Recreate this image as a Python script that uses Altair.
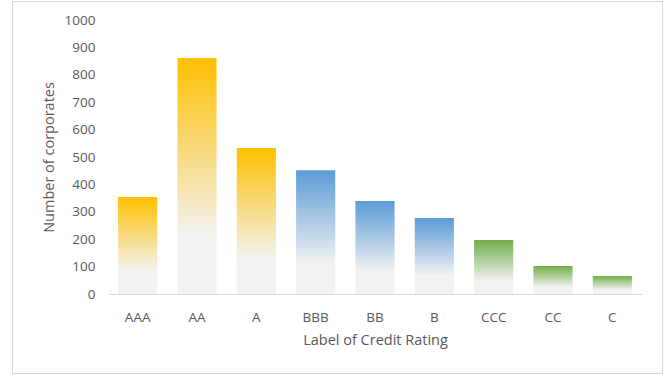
import altair as alt
import pandas as pd

ratings = ["AAA", "AA", "A", "BBB", "BB", "B", "CCC", "CC", "C"]
counts = [354, 861, 533, 452, 339, 277, 197, 102, 66]
groups = ["A", "A", "A", "B", "B", "B", "C", "C", "C"]
group_colors = {"A": "#FFC000", "B": "#5B9BD5", "C": "#70AD47"}

df = pd.DataFrame({"rating": ratings, "count": counts, "group": groups})

FONT = "Open Sans"
GREY = "#595959"

x_enc = alt.X(
    "rating:N",
    sort=ratings,
    scale=alt.Scale(paddingInner=0.34, paddingOuter=0.17),
    axis=alt.Axis(
        title="Label of Credit Rating",
        labelAngle=0,
        ticks=False,
        domainColor="#D9D9D9",
        domainWidth=1,
        labelPadding=16,
        titlePadding=10,
        labelFontSize=13.5,
        titleFontSize=14.5,
        labelColor=GREY,
        titleColor=GREY,
        labelFont=FONT,
        titleFont=FONT,
        titleFontWeight="normal",
        grid=False,
    ),
)
y_enc = alt.Y(
    "count:Q",
    scale=alt.Scale(domain=[0, 1000], nice=False),
    axis=alt.Axis(
        title="Number of corporates",
        values=list(range(0, 1001, 100)),
        format="d",
        ticks=False,
        domain=False,
        grid=False,
        labelPadding=13,
        titlePadding=8,
        labelFontSize=13.5,
        titleFontSize=14.5,
        labelColor=GREY,
        titleColor=GREY,
        labelFont=FONT,
        titleFont=FONT,
        titleFontWeight="normal",
    ),
)


def grad(c):
    return alt.LinearGradient(
        gradient="linear",
        x1=0, y1=0, x2=0, y2=1,
        stops=[
            alt.GradientStop(offset=0, color=c),
            alt.GradientStop(offset=0.76, color="#F2F2F2"),
            alt.GradientStop(offset=1, color="#F2F2F2"),
        ],
    )


layers = []
for g, c in group_colors.items():
    layers.append(
        alt.Chart(df)
        .transform_filter(alt.datum.group == g)
        .mark_bar(color=grad(c))
        .encode(x=x_enc, y=y_enc)
    )

border = alt.Chart(df).mark_rect(
    fill=None, stroke="#D9D9D9", strokeWidth=1
).encode(
    x=alt.value(-95.5), x2=alt.value(554.5),
    y=alt.value(-18.5), y2=alt.value(353.5),
)

chart = (
    alt.layer(*layers, border)
    .properties(
        width=534,
        height=274,
        autosize=alt.AutoSizeParams(type="none"),
        padding={"left": 108, "top": 20, "right": 22, "bottom": 81},
        background="white",
    )
    .configure_view(stroke=None)
)

chart.save("out.html", embed_options={"renderer": "svg", "actions": False})
